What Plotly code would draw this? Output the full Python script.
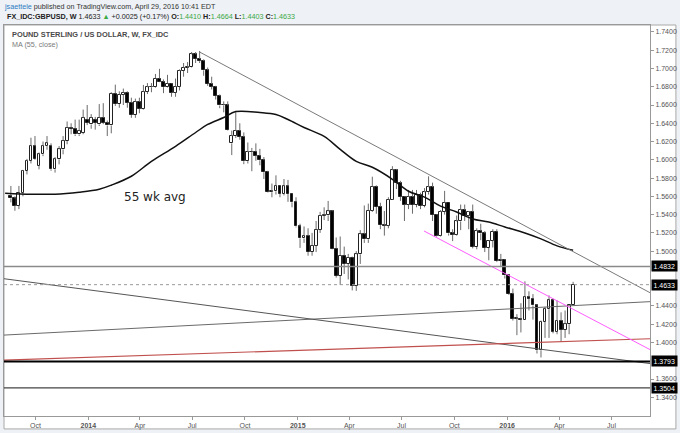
import plotly.graph_objects as go
import pandas as pd

# ---------------- data (weekly GBPUSD candles, first week 2013-08-19) ----------------
first_week = "2013-08-19"

opens = [
    # 2013
    1.5605, 1.5577, 1.5496, 1.5642, 1.5878, 1.5987, 1.6150, 1.5935, 1.6060, 1.6150,
    1.6150, 1.5896, 1.6005, 1.6114, 1.6205, 1.6351, 1.6340, 1.6278, 1.6296, 1.6441,
    # 2014
    1.6387, 1.6441, 1.6387, 1.6459, 1.6405, 1.6376, 1.6725, 1.6610, 1.6713, 1.6735,
    1.6625, 1.6490, 1.6635, 1.6560, 1.6745, 1.6795, 1.6800, 1.6890, 1.6855, 1.6795,
    1.6835, 1.6735, 1.6800, 1.6975, 1.7010, 1.7015, 1.7155, 1.7105, 1.7080, 1.6980,
    1.6830, 1.6800, 1.6700, 1.6595, 1.6595, 1.6180, 1.6260, 1.6315, 1.6250, 1.5985,
    1.6085, 1.6090, 1.6045, 1.5995, 1.5865, 1.5645, 1.5655, 1.5715, 1.5625, 1.5710,
    1.5625, 1.5535,
    # 2015
    1.5270, 1.5140, 1.5165, 1.4990, 1.5060, 1.5236, 1.5387, 1.5393, 1.5435, 1.5027,
    1.4730, 1.4952, 1.4860, 1.4930, 1.4623, 1.4965, 1.5185, 1.5130, 1.5445, 1.5705,
    1.5485, 1.5285, 1.5280, 1.5565, 1.5885, 1.5745, 1.5595, 1.5510, 1.5595, 1.5505,
    1.5610, 1.5495, 1.5645, 1.5700, 1.5395, 1.5170, 1.5430, 1.5530, 1.5195, 1.5180,
    1.5325, 1.5450, 1.5390, 1.5430, 1.5045, 1.5220, 1.5195, 1.5035, 1.5115, 1.5215,
    1.4890, 1.4902,
    # 2016
    1.4735, 1.4530, 1.4260, 1.4260, 1.4250, 1.4495, 1.4480, 1.4405, 1.3915, 1.4225,
    1.4365, 1.4460, 1.4120, 1.4235, 1.4140, 1.4200, 1.4410,
]
highs = [
    1.5714, 1.5600, 1.5714, 1.5890, 1.6010, 1.6242, 1.6260, 1.6080, 1.6200, 1.6260,
    1.6180, 1.6030, 1.6150, 1.6260, 1.6420, 1.6400, 1.6440, 1.6440, 1.6550, 1.6600,
    1.6500, 1.6470, 1.6610, 1.6620, 1.6430, 1.6740, 1.6823, 1.6750, 1.6780, 1.6750,
    1.6680, 1.6670, 1.6680, 1.6820, 1.6840, 1.6840, 1.6940, 1.6996, 1.6880, 1.6930,
    1.6840, 1.6890, 1.6990, 1.7060, 1.7070, 1.7180, 1.7180, 1.7192, 1.7100, 1.7010,
    1.6910, 1.6810, 1.6715, 1.6640, 1.6640, 1.6320, 1.6525, 1.6400, 1.6300, 1.6190,
    1.6130, 1.6180, 1.6120, 1.6030, 1.5880, 1.5740, 1.5830, 1.5720, 1.5790, 1.5780,
    1.5630, 1.5590,
    1.5300, 1.5270, 1.5250, 1.5200, 1.5330, 1.5430, 1.5480, 1.5550, 1.5450, 1.5150,
    1.5160, 1.5050, 1.4970, 1.4940, 1.5000, 1.5230, 1.5500, 1.5520, 1.5815, 1.5720,
    1.5530, 1.5440, 1.5590, 1.5930, 1.5900, 1.5770, 1.5600, 1.5670, 1.5670, 1.5670,
    1.5640, 1.5690, 1.5819, 1.5750, 1.5400, 1.5450, 1.5660, 1.5530, 1.5240, 1.5390,
    1.5510, 1.5510, 1.5440, 1.5510, 1.5250, 1.5300, 1.5220, 1.5110, 1.5240, 1.5240,
    1.4970, 1.4910,
    1.4750, 1.4590, 1.4310, 1.4430, 1.4670, 1.4560, 1.4530, 1.4420, 1.4240, 1.4390,
    1.4515, 1.4480, 1.4460, 1.4330, 1.4350, 1.4410, 1.4664,
]
lows = [
    1.5534, 1.5442, 1.5460, 1.5600, 1.5840, 1.5960, 1.6000, 1.5895, 1.6040, 1.6110,
    1.5880, 1.5860, 1.5950, 1.6060, 1.6170, 1.6280, 1.6260, 1.6260, 1.6280, 1.6380,
    1.6340, 1.6330, 1.6370, 1.6390, 1.6260, 1.6290, 1.6590, 1.6570, 1.6600, 1.6570,
    1.6460, 1.6460, 1.6510, 1.6550, 1.6720, 1.6740, 1.6790, 1.6850, 1.6730, 1.6790,
    1.6690, 1.6690, 1.6760, 1.6910, 1.6950, 1.7010, 1.7060, 1.7060, 1.6920, 1.6810,
    1.6770, 1.6660, 1.6565, 1.6520, 1.6320, 1.6052, 1.6240, 1.6220, 1.5952, 1.5960,
    1.5875, 1.5990, 1.5940, 1.5790, 1.5640, 1.5590, 1.5620, 1.5590, 1.5610, 1.5540,
    1.5480, 1.5260,
    1.5035, 1.5090, 1.4950, 1.4950, 1.4990, 1.5200, 1.5340, 1.5330, 1.5020, 1.4710,
    1.4630, 1.4750, 1.4690, 1.4570, 1.4565, 1.4860, 1.5090, 1.5090, 1.5430, 1.5410,
    1.5240, 1.5170, 1.5250, 1.5560, 1.5680, 1.5550, 1.5330, 1.5460, 1.5410, 1.5480,
    1.5460, 1.5480, 1.5620, 1.5330, 1.5160, 1.5160, 1.5400, 1.5170, 1.5110, 1.5170,
    1.5230, 1.5330, 1.5240, 1.5030, 1.5020, 1.5120, 1.4990, 1.4900, 1.5040, 1.4880,
    1.4830, 1.4700,
    1.4520, 1.4240, 1.4080, 1.4110, 1.4250, 1.4350, 1.4250, 1.3879, 1.3836, 1.4050,
    1.4050, 1.4100, 1.4090, 1.4005, 1.4050, 1.4090, 1.4403,
]
closes = [
    1.5577, 1.5496, 1.5642, 1.5878, 1.5987, 1.6150, 1.6010, 1.6060, 1.6150, 1.6180,
    1.5896, 1.6005, 1.6114, 1.6205, 1.6351, 1.6340, 1.6278, 1.6314, 1.6459, 1.6405,
    1.6459, 1.6405, 1.6459, 1.6405, 1.6376, 1.6725, 1.6610, 1.6713, 1.6735, 1.6625,
    1.6490, 1.6635, 1.6560, 1.6745, 1.6795, 1.6800, 1.6890, 1.6855, 1.6795, 1.6835,
    1.6735, 1.6800, 1.6975, 1.7010, 1.7015, 1.7155, 1.7105, 1.7080, 1.6980, 1.6830,
    1.6800, 1.6700, 1.6595, 1.6595, 1.6325, 1.6260, 1.6315, 1.6250, 1.5985, 1.6085,
    1.6090, 1.6045, 1.5995, 1.5865, 1.5645, 1.5655, 1.5715, 1.5625, 1.5710, 1.5625,
    1.5535, 1.5270,
    1.5140, 1.5165, 1.4990, 1.5060, 1.5236, 1.5387, 1.5393, 1.5435, 1.5027, 1.4730,
    1.4952, 1.4860, 1.4930, 1.4623, 1.4965, 1.5185, 1.5130, 1.5445, 1.5705, 1.5485,
    1.5285, 1.5280, 1.5565, 1.5885, 1.5745, 1.5595, 1.5510, 1.5595, 1.5505, 1.5610,
    1.5495, 1.5645, 1.5700, 1.5395, 1.5170, 1.5430, 1.5530, 1.5195, 1.5180, 1.5325,
    1.5450, 1.5390, 1.5430, 1.5045, 1.5220, 1.5195, 1.5035, 1.5115, 1.5215, 1.4890,
    1.4902, 1.4735,
    1.4530, 1.4260, 1.4260, 1.4250, 1.4495, 1.4480, 1.4405, 1.3915, 1.4225, 1.4365,
    1.4460, 1.4120, 1.4235, 1.4140, 1.4200, 1.4405, 1.4633,
]

# 55-week moving average
ma_dates = [
    "2013-08-09", "2013-09-23", "2013-11-04", "2013-12-16", "2014-01-20", "2014-02-10",
    "2014-03-17", "2014-04-21", "2014-06-02", "2014-07-07", "2014-07-28", "2014-08-25",
    "2014-09-15", "2014-10-27", "2014-11-24", "2014-12-15", "2015-01-12", "2015-02-16",
    "2015-03-16", "2015-04-13", "2015-05-11", "2015-06-15", "2015-07-13", "2015-08-10",
    "2015-09-07", "2015-10-05", "2015-11-02", "2015-11-30", "2015-12-28", "2016-02-01",
    "2016-02-29", "2016-03-28", "2016-04-25",
]
ma_values = [
    1.5635, 1.5624, 1.5624, 1.5646, 1.5678, 1.5722, 1.5820, 1.5983, 1.6147, 1.6299,
    1.6387, 1.6463, 1.6528, 1.6517, 1.6495, 1.6441, 1.6354, 1.6256, 1.6114, 1.5983,
    1.5918, 1.5787, 1.5656, 1.5591, 1.5493, 1.5428, 1.5352, 1.5319, 1.5265, 1.5199,
    1.5134, 1.5058, 1.5010,
]

# drawn trendlines: (start date, start price, end date, end price)
x_start, x_end = "2013-08-07", "2016-09-06"
trend_main = ("2014-07-14", 1.7180, x_end, 1.4545)
trend_rise = (x_start, 1.4081, x_end, 1.4447)
trend_fall = (x_start, 1.4698, x_end, 1.3769)
trend_red = (x_start, 1.3807, x_end, 1.4041)
trend_pink = ("2015-08-09", 1.5221, x_end, 1.3922)

# horizontal levels
level_resist = 1.4832
level_last = 1.4633
level_support = 1.3793
level_low = 1.3504
boxed_levels = [1.4832, 1.4633, 1.3793, 1.3504]

y_ticks = [1.34, 1.36, 1.40, 1.42, 1.44, 1.50, 1.52, 1.54, 1.56, 1.58, 1.60,
           1.62, 1.64, 1.66, 1.68, 1.70, 1.72, 1.74]
x_tickvals = ["2013-10-01", "2014-01-01", "2014-04-01", "2014-07-01", "2014-10-01",
              "2015-01-01", "2015-04-01", "2015-07-01", "2015-10-01", "2016-01-01",
              "2016-04-01", "2016-07-01"]
x_ticktext = ["Oct", "<b>2014</b>", "Apr", "Jul", "Oct", "<b>2015</b>", "Apr", "Jul",
              "Oct", "<b>2016</b>", "Apr", "Jul"]

# ---------------- figure ----------------
FONT = "Liberation Sans, Arial, sans-serif"
dates = pd.date_range(first_week, periods=len(closes), freq="7D")

fig = go.Figure()

# wicks (upper and lower parts, so they never cross the bodies)
wx, wy = [], []
for d, o, h, l, c in zip(dates, opens, highs, lows, closes):
    top, bot = max(o, c), min(o, c)
    wx += [d, d, None, d, d, None]
    wy += [h, top, None, bot, l, None]
fig.add_trace(go.Scatter(x=wx, y=wy, mode="lines",
                         line=dict(color="#6a6a6a", width=1), hoverinfo="skip"))

# bodies
bases = [min(o, c) for o, c in zip(opens, closes)]
heights = [max(abs(c - o), 0.0003) for o, c in zip(opens, closes)]
fills = ["#ffffff" if c >= o else "#000000" for o, c in zip(opens, closes)]
fig.add_trace(go.Bar(x=dates, y=heights, base=bases, width=5 * 86400000,
                     marker=dict(color=fills, line=dict(color="#222222", width=1)),
                     hoverinfo="skip"))

# moving average
fig.add_trace(go.Scatter(x=ma_dates, y=ma_values, mode="lines", line_shape="spline",
                         line=dict(color="#111111", width=1.5), hoverinfo="skip"))

# trendlines
for tl, col, wd in [(trend_main, "#7a7a7a", 1), (trend_rise, "#6a6a6a", 1),
                    (trend_fall, "#555555", 1), (trend_red, "#c0504d", 1.2),
                    (trend_pink, "#ff5cff", 1)]:
    fig.add_trace(go.Scatter(x=[tl[0], tl[2]], y=[tl[1], tl[3]], mode="lines",
                             line=dict(color=col, width=wd), hoverinfo="skip"))

# horizontal levels
for lv, col, wd, dash in [(level_resist, "#8a8a8a", 1.5, "solid"),
                          (level_last, "#9a9a9a", 1, "dot"),
                          (level_support, "#000000", 2, "solid"),
                          (level_low, "#444444", 1.3, "solid")]:
    fig.add_trace(go.Scatter(x=[x_start, x_end], y=[lv, lv], mode="lines",
                             line=dict(color=col, width=wd, dash=dash), hoverinfo="skip"))

# price boxes on the right axis
for v in boxed_levels:
    fig.add_annotation(xref="paper", x=1, xanchor="left", xshift=1, yref="y", y=v,
                       text=f"{v:.4f}", showarrow=False, bgcolor="#000000",
                       borderpad=1.5, font=dict(family=FONT, size=7, color="#ffffff"))

# frame of the chart (includes price and time axes)
fig.add_shape(type="rect", xref="paper", yref="paper", x0=0, x1=674 / 648,
              y0=-13 / 393, y1=1, fillcolor="#ffffff",
              line=dict(color="#a8a8a8", width=1), layer="below")

# header texts
fig.add_annotation(xref="paper", yref="paper", x=-2 / 648, y=412 / 393,
                   xanchor="left", yanchor="middle", showarrow=False,
                   text="<span style='color:#2b7bc4'>jsaettele</span> published on TradingView.com, April 29, 2016 10:41 EDT",
                   font=dict(family=FONT, size=7.2, color="#333333"))
green = "#3aa845"
fig.add_annotation(xref="paper", yref="paper", x=1.5 / 648, y=402 / 393,
                   xanchor="left", yanchor="middle", showarrow=False,
                   text=(f"<b>FX_IDC:GBPUSD, W</b> 1.4633 <span style='color:{green}'>▲</span> +0.0025 (+0.17%) "
                         f"<b>O:</b><span style='color:{green}'>1.4410</span> "
                         f"<b>H:</b><span style='color:{green}'>1.4664</span> "
                         f"<b>L:</b><span style='color:{green}'>1.4403</span> "
                         f"<b>C:</b><span style='color:{green}'>1.4633</span>"),
                   font=dict(family=FONT, size=7.2, color="#222222"))
fig.add_annotation(xref="paper", yref="paper", x=6 / 648, y=383 / 393,
                   xanchor="left", yanchor="middle", showarrow=False,
                   text="<b>POUND STERLING / US DOLLAR, W, FX_IDC</b>",
                   font=dict(family=FONT, size=7.4, color="#4a4a4a"))
fig.add_annotation(xref="paper", yref="paper", x=6 / 648, y=373.5 / 393,
                   xanchor="left", yanchor="middle", showarrow=False,
                   text="MA (55, close)",
                   font=dict(family=FONT, size=7.2, color="#7a7a7a"))
fig.add_annotation(x="2014-04-28", y=1.5591, xanchor="center", yanchor="middle",
                   showarrow=False, text="55 wk avg",
                   font=dict(family="DejaVu Sans", size=12, color="#222222"))

fig.update_layout(
    width=680, height=433,
    margin=dict(l=3, r=29, t=25, b=15),
    paper_bgcolor="#eef1f5", plot_bgcolor="#ffffff",
    showlegend=False, hovermode=False, bargap=0,
    xaxis=dict(type="date", range=[x_start, x_end], tickvals=x_tickvals,
               ticktext=x_ticktext, ticks="outside", ticklen=3, tickcolor="#999999",
               tickfont=dict(family=FONT, size=7, color="#555555"),
               showgrid=False, zeroline=False, showline=True, linecolor="#999999",
               linewidth=1, mirror=True, rangeslider=dict(visible=False),
               fixedrange=True),
    yaxis=dict(side="right", range=[1.3195, 1.7476], tickvals=y_ticks,
               ticktext=[f"{v:.4f}" for v in y_ticks], ticks="outside", ticklen=3,
               tickcolor="#999999", tickfont=dict(family=FONT, size=7, color="#555555"),
               showgrid=False, zeroline=False, showline=True, linecolor="#999999",
               linewidth=1, mirror=True, fixedrange=True),
)

fig.write_html("out.html", config={"displayModeBar": False})
